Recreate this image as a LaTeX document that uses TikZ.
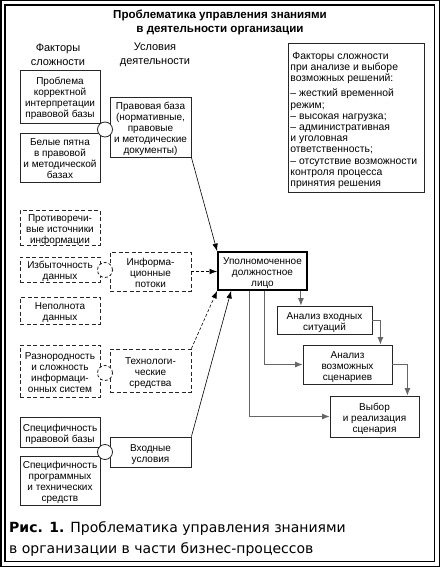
\documentclass[tikz,border=0pt]{standalone}
\usepackage{fontspec}
\setmainfont{Liberation Sans}
\newfontfamily\capfont{DejaVu Sans}
\usetikzlibrary{arrows.meta}
\newcommand\bx[7]{\node[#1, minimum width={(#5-#3)*1pt}, minimum height={(#6-#4)*1pt}] (#2) at ({(#3+#5)/2},{(#4+#6)/2}) {\raisebox{-2.5pt}[\height][\depth]{\begin{tabular}{@{}c@{}}#7\end{tabular}}};}
\begin{document}
\begin{tikzpicture}[x=1pt,y=-1pt,
  box/.style={draw=black!85, line width=0.8pt, align=center, inner sep=0pt, font=\fontsize{10}{11}\selectfont},
  dbox/.style={box, dash pattern=on 4pt off 2.5pt},
  mainbox/.style={box, line width=1.8pt, draw=black},
  circ/.style={circle, draw=black!85, line width=0.8pt, fill=white, minimum size=15pt, inner sep=0pt},
  dcirc/.style={circ, dash pattern=on 3pt off 2pt},
  hdr/.style={align=center, font=\fontsize{11}{14}\selectfont, inner sep=0pt},
  arr/.style={-{Latex[length=7.5pt,width=5.5pt]}, line width=0.6pt, black},
  darr/.style={arr, dash pattern=on 3pt off 2pt},
  garr/.style={-{Latex[length=7.5pt,width=6pt]}, line width=0.9pt, draw=black!60},
]
\useasboundingbox (0,0) rectangle (440,567);
\draw[line width=1.5pt] (0.75,0.75) rectangle (439.25,566.25);
\draw[line width=1.5pt] (5,5) rectangle (434.5,561.5);

\node[font=\bfseries\fontsize{11.6}{14}\selectfont, align=center, inner sep=0pt] (title) at (220,22) {Проблематика управления знаниями\\в деятельности организации};
\node[hdr] (h1) at (58,55) {Факторы\\сложности};
\node[hdr] (h2) at (155,55) {Условия\\деятельности};

% left factor boxes
\bx{box}{b1}{20}{70}{100}{123}{Проблема\\корректной\\интерпретации\\правовой базы}
\bx{box}{b2}{20}{133}{100}{182}{Белые пятна\\в правовой\\и методической\\базах}
\bx{dbox}{b3}{20}{210}{100}{245}{Противоречи-\\вые источники\\информации}
\bx{dbox}{b4}{20}{257}{100}{282}{Избыточность\\данных}
\bx{dbox}{b5}{20}{297}{100}{324}{Неполнота\\данных}
\bx{dbox}{b6}{20}{345}{100}{397}{Разнородность\\и сложность\\информаци-\\онных систем}
\bx{box}{b7}{20}{417}{100}{447}{Специфичность\\правовой базы}
\bx{box}{b8}{20}{456}{100}{505}{Специфичность\\программных\\и технических\\средств}

% condition boxes
\bx{box}{u1}{110}{97}{191}{157}{Правовая база\\(нормативные,\\правовые\\и методические\\документы)}
\bx{dbox}{u2}{110}{252}{191}{291}{Информа-\\ционные\\потоки}
\bx{dbox}{u3}{110}{349}{191}{392}{Технологи-\\ческие\\средства}
\bx{box}{u4}{110}{437}{191}{467}{Входные\\условия}

% circles
\node[circ] (c1) at (105,129.5) {};
\node[dcirc] (c2) at (105,270) {};
\node[dcirc] (c3) at (105,373) {};
\node[circ] (c4) at (105,452) {};

% central
\bx{mainbox}{m}{218}{252}{307}{290}{Уполномоченное\\должностное\\лицо}

% right process boxes
\bx{box}{r1}{277}{306}{372}{334}{Анализ входных\\ситуаций}
\bx{box}{r2}{303}{345}{392}{384}{Анализ\\возможных\\сценариев}
\bx{box}{r3}{330}{396}{419}{437}{Выбор\\и реализация\\сценария}

% info box
\node[box, anchor=north west, minimum width=136pt, minimum height=149pt, inner sep=0pt, font=\fontsize{10.4}{11.2}\selectfont] (info) at (288,43) {\raisebox{-2.5pt}[\height][\depth]{\parbox{132pt}{\raggedright\hspace{2pt}Факторы сложности\\при анализе и выборе\\возможных решений:\\[4pt]– жесткий временной\\режим;\\– высокая нагрузка;\\– административная\\и уголовная\\ответственность;\\– отсутствие возможности\\контроля процесса\\принятия решения}}};

% connectors
\draw[arr] (u1.south east) -- (m.north west);
\draw[darr] (u2.east) -- (u2.east -| m.west);
\draw[darr] (u3.north east) -- (m.south west);
\draw[arr] (u4.north east) -- ([xshift=14pt]m.south west);
\draw[garr] ([xshift=-7pt]m.south east) -- ([xshift=-7pt]m.south east |- r1.north);
\draw[garr] (r1.east) -| ([xshift=-12pt]r2.north east);
\draw[garr] (r2.east) -| ([xshift=-12pt]r3.north east);
\draw[garr] ([xshift=47pt]m.south west) |- (r2.west);
\draw[garr] ([xshift=32pt]m.south west) |- (r3.west);

% caption
\node[anchor=north west, font=\capfont\fontsize{14}{20.5}\selectfont, align=left, inner sep=0pt] (cap) at (9,521.5) {\textbf{Рис. 1.} Проблематика управления знаниями\\в организации в части бизнес-процессов};
\end{tikzpicture}
\end{document}
